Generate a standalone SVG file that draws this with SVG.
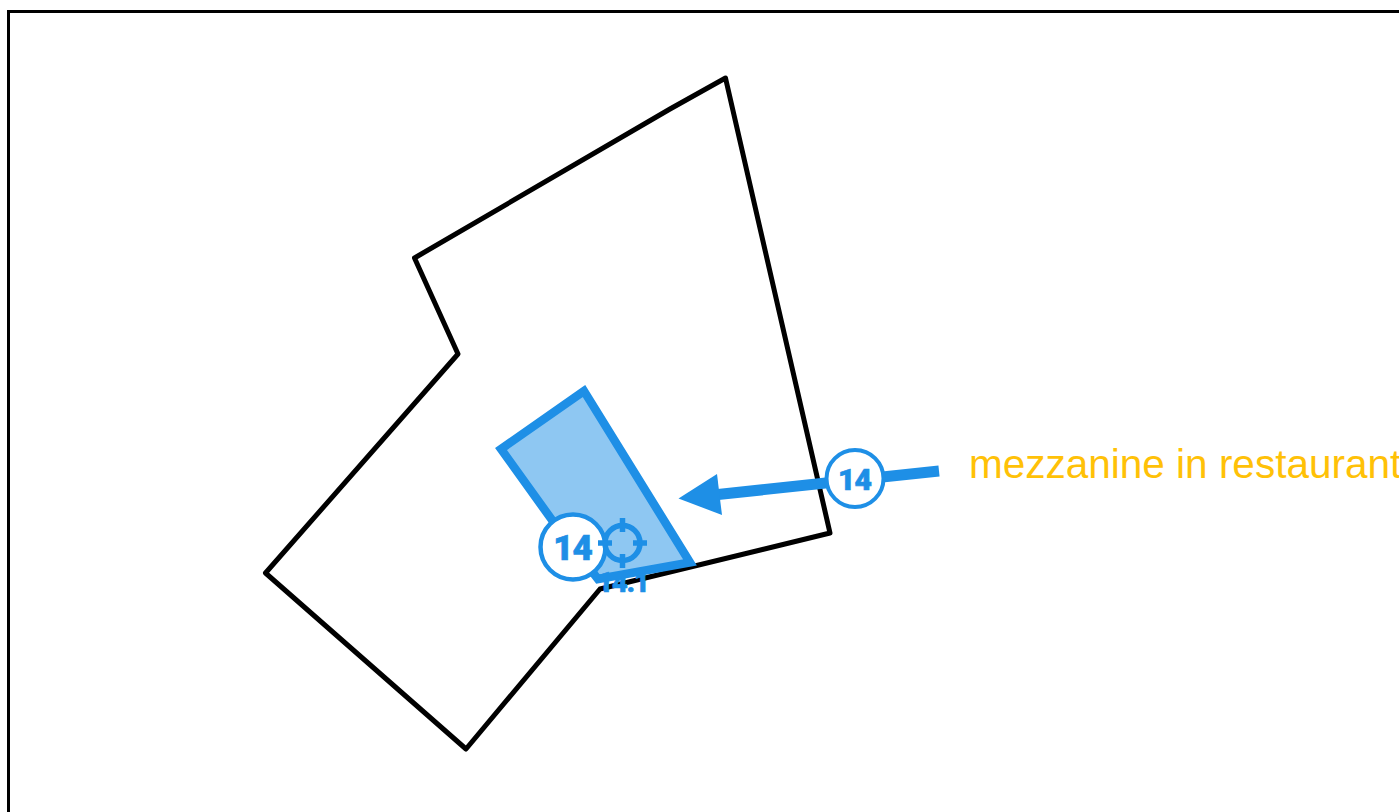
<svg xmlns="http://www.w3.org/2000/svg" width="1399" height="812" viewBox="0 0 1399 812">
<style>
.blue{fill:#1e8fe6}
.badge{fill:#fff;stroke:#1e8fe6}
.num{font-family:"Roboto","Noto Sans",sans-serif;font-weight:900;fill:#1e8fe6;stroke:#1e8fe6;stroke-width:.7;text-anchor:middle;letter-spacing:-1px}
.tick{stroke:#1e8fe6;stroke-width:5.500;fill:none}
</style>
<rect width="1399" height="812" fill="#fff"/>
<path d="M8.500 812V11.500H1399" fill="none" stroke="#000" stroke-width="3"/>
<g id="outline">
<path d="M725.500 78L830 533L600 589L466 749L265.500 573L458 354L414.500 258L670 109Z" fill="#fff" stroke="#000" stroke-width="5" stroke-linejoin="round"/>
</g>
<g id="area-14">
<path d="M584 391L501 449L552 520L598 579L690 562.500Z" fill="#1e8fe6" fill-opacity=".5" stroke="#1e8fe6" stroke-width="8.500"/>
</g>
<g id="connectors">
<path d="M939 471L718 494.500" fill="none" stroke="#1e8fe6" stroke-width="11"/>
<path d="M678.500 498.500L717 474L722 515Z" class="blue"/>
</g>
<g id="badge-14-area">
<circle cx="573" cy="547" r="32.500" class="badge" stroke-width="4.500"/>
<text x="572.500" y="559.500" class="num" font-size="35">14</text>
</g>
<g id="target-14-1">
<text x="623" y="592" class="num" font-size="27">14.1</text>
<circle cx="622.500" cy="543" r="17.500" fill="none" stroke="#1e8fe6" stroke-width="5.500"/>
<path class="tick" d="M598 543H612M633 543H647M622.500 518V532M622.500 554V568"/>
</g>
<g id="badge-14-callout">
<circle cx="855" cy="478.500" r="28.500" class="badge" stroke-width="4"/>
<text x="854.500" y="490" class="num" font-size="30">14</text>
</g>
<g id="callout-label">
<text x="969" y="477.500" font-family="Liberation Sans, Arial, sans-serif" font-size="40.500" fill="#ffc107">mezzanine in restaurant</text>
</g>
</svg>
